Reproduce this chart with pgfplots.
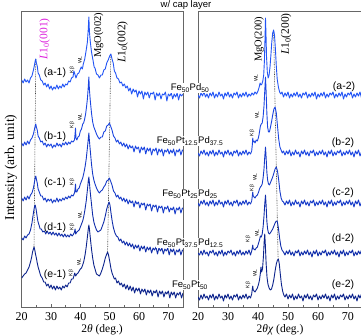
\documentclass[border=0pt]{standalone}
\usepackage{fontspec}
\setmainfont{Liberation Serif}
\newfontfamily\arialf{Liberation Sans}
\usepackage{pgfplots}
\pgfplotsset{compat=1.18}

\definecolor{ca}{RGB}{35,85,245}
\definecolor{cb}{RGB}{28,70,225}
\definecolor{cc}{RGB}{22,58,200}
\definecolor{cd}{RGB}{16,45,170}
\definecolor{ce}{RGB}{12,35,140}
\definecolor{pk}{RGB}{220,30,220}

\pgfplotsset{
  panel/.style={
    scale only axis, anchor=south west,
    height=296.5pt, ymin=27.5, ymax=324,
    xmin=20, xmax=75,
    xtick={20,30,...,70}, minor xtick={25,35,...,75},
    xtick pos=left, ytick=\empty,
    axis line style={draw=black!60, line width=0.9pt},
    every tick/.style={black!60, line width=0.8pt},
    major tick length=4pt, minor tick length=3pt,
    /pgf/number format/assume math mode=true,
    xticklabel style={font=\fontsize{12}{12}\selectfont, yshift=-1.5pt},
    every axis plot/.append style={line width=0.9pt, line join=round},
  },
  dots/.style={black!75, line width=0.6pt, dash pattern=on 0.8pt off 0.9pt},
}

\begin{document}
\begin{tikzpicture}
\path[use as bounding box] (0,0) rectangle (361pt,335pt);

% ---------- 2theta scans ----------
\begin{axis}[panel, at={(21.7pt,27.5pt)}, width=161.3pt]
\addplot[dots] coordinates {(24.8,276) (24.2,88)};
\addplot[dots] coordinates {(50.4,281) (49.3,83)};
% Fe50Pd50
\addplot[ca] coordinates {(20,255) (20.5,252) (21,256) (21.5,253) (22,255) (22.5,252) (23,257) (23.5,259) (24,265) (24.3,269) (24.6,274) (24.8,276) (25,272) (25.3,269) (25.6,262) (26,260) (26.5,255) (27,254) (27.5,250) (28,252) (28.5,248) (29,251) (29.5,246) (30,249) (30.5,245) (31,248) (31.5,246) (32,250) (32.5,246) (33,249) (33.5,247) (34,251) (34.5,248) (35,251) (35.5,250) (36,254) (36.5,253) (37,257) (37.5,258) (37.8,264) (38.1,261) (38.5,257) (39,261) (39.5,262) (40,266) (40.3,268) (40.7,266) (41,271) (41.5,276) (42,285) (42.4,293) (42.7,306) (42.9,318) (43.1,303) (43.4,293) (43.8,283) (44.3,275) (44.7,268) (45,267) (45.5,261) (46,260) (46.5,257) (47,260) (47.5,260) (48,265) (48.5,266) (49,272) (49.5,275) (50,279) (50.4,281) (50.8,276) (51.2,272) (51.6,264) (52,262) (52.5,257) (53,256) (53.5,252) (54,253) (54.5,249) (55,251) (55.5,247) (56,249) (56.5,244) (57,247) (57.5,241) (58,246) (58.5,243) (59,245) (59.5,238) (60,244) (60.5,241) (61,244) (61.5,236) (62,243) (62.5,240) (63,243) (63.5,237) (64,242) (64.5,241) (65,243) (65.5,235) (66,242) (66.5,239) (67,242) (67.5,236) (68,241) (68.5,240) (69,243) (69.5,234) (70,241) (70.5,239) (71,242) (71.5,236) (72,241) (72.5,238) (73,242) (73.5,235) (74,241) (74.5,239) (75,241)};
% Fe50Pt12.5Pd37.5
\addplot[cb] coordinates {(20,192) (20.5,189) (21,193) (21.5,190) (22,194) (22.5,191) (23,195) (23.5,197) (24,201) (24.3,205) (24.6,209) (24.8,211) (25,208) (25.3,205) (25.6,199) (26,197) (26.5,193) (27,194) (27.5,190) (28,192) (28.5,188) (29,191) (29.5,189) (30,191) (30.5,187) (31,190) (31.5,188) (32,192) (32.5,189) (33,191) (33.5,188) (34,192) (34.5,190) (35,193) (35.5,190) (36,193) (36.5,191) (37,194) (37.5,193) (38,195) (38.2,201) (38.35,207) (38.5,197) (38.8,195) (39.2,198) (39.6,199) (40,204) (40.4,206) (40.8,211) (41.1,212) (41.4,215) (41.8,221) (42.1,228) (42.4,236) (42.7,248) (42.9,258) (43.1,245) (43.4,234) (43.8,222) (44.2,213) (44.6,208) (45,205) (45.5,201) (46,198) (46.5,196) (47,198) (47.5,198) (48,203) (48.5,204) (49,209) (49.5,210) (49.9,212) (50.3,209) (50.8,205) (51.3,199) (51.8,197) (52.3,193) (52.8,195) (53.3,191) (53.8,193) (54.3,189) (54.8,192) (55.3,188) (55.8,191) (56.3,186) (56.8,190) (57.3,187) (57.8,189) (58.3,183) (58.8,189) (59.3,186) (59.8,188) (60.3,182) (60.8,188) (61.3,185) (61.8,188) (62.3,181) (62.8,187) (63.3,184) (63.8,187) (64.3,180) (64.8,186) (65.3,184) (65.8,187) (66.3,180) (66.8,186) (67.3,183) (67.8,186) (68.3,179) (68.8,185) (69.3,183) (69.8,186) (70.3,181) (70.8,185) (71.3,182) (71.8,186) (72.3,179) (72.8,185) (73.3,183) (73.8,186) (74.3,180) (74.8,185) (75,184)};
% Fe50Pt25Pd25
\addplot[cc] coordinates {(20,137) (20.5,134) (21,138) (21.5,135) (22,139) (22.5,136) (23,140) (23.5,142) (24,147) (24.3,152) (24.6,157) (24.8,159) (25,156) (25.3,152) (25.6,146) (26,143) (26.5,139) (27,139) (27.5,135) (28,137) (28.5,133) (29,136) (29.5,134) (30,136) (30.5,132) (31,135) (31.5,133) (32,137) (32.5,133) (33,136) (33.5,134) (34,137) (34.5,135) (35,138) (35.5,136) (36,139) (36.5,137) (37,140) (37.5,139) (38,142) (38.2,146) (38.35,151) (38.5,143) (38.8,143) (39.2,146) (39.6,147) (40,151) (40.4,154) (40.8,157) (41.2,162) (41.6,168) (42,176) (42.4,187) (42.7,196) (42.9,202) (43.1,194) (43.4,184) (43.8,171) (44.2,161) (44.6,155) (45,151) (45.5,147) (46,144) (46.5,142) (47,144) (47.5,145) (48,148) (48.5,150) (49,154) (49.5,155) (49.9,157) (50.3,154) (50.8,150) (51.3,144) (51.8,142) (52.3,138) (52.8,140) (53.3,136) (53.8,138) (54.3,134) (54.8,137) (55.3,133) (55.8,136) (56.3,131) (56.8,135) (57.3,132) (57.8,134) (58.3,128) (58.8,134) (59.3,131) (59.8,133) (60.3,127) (60.8,132) (61.3,130) (61.8,132) (62.3,125) (62.8,131) (63.3,129) (63.8,131) (64.3,124) (64.8,130) (65.3,128) (65.8,130) (66.3,123) (66.8,129) (67.3,127) (67.8,129) (68.3,122) (68.8,128) (69.3,126) (69.8,129) (70.3,123) (70.8,127) (71.3,125) (71.8,128) (72.3,121) (72.8,127) (73.3,125) (73.8,128) (74.3,122) (74.8,127) (75,126)};
% Fe50Pt37.5Pd12.5
\addplot[cd] coordinates {(20,97) (20.5,95) (21,99) (21.5,97) (22,100) (22.5,101) (23,105) (23.5,112) (23.8,118) (24.1,124) (24.4,129) (24.6,130) (24.9,126) (25.2,120) (25.5,114) (25.9,110) (26.3,106) (26.7,106) (27.2,103) (27.7,104) (28.2,101) (28.7,104) (29.2,101) (29.7,103) (30.2,100) (30.7,103) (31.2,100) (31.7,102) (32.2,99) (32.7,102) (33.2,99) (33.7,101) (34.2,98) (34.7,101) (35.2,98) (35.7,100) (36.2,98) (36.7,101) (37.2,99) (37.7,101) (38,103) (38.2,106) (38.4,101) (38.8,103) (39.2,104) (39.6,105) (40,108) (40.4,111) (40.8,114) (41.2,119) (41.6,126) (42,134) (42.4,145) (42.7,154) (42.9,158) (43.1,152) (43.4,142) (43.8,131) (44.2,120) (44.6,113) (45,109) (45.5,105) (46,103) (46.5,104) (47,105) (47.5,109) (48,113) (48.5,119) (49,126) (49.4,130) (49.8,133) (50.1,130) (50.5,121) (50.9,113) (51.3,107) (51.8,102) (52.3,99) (52.8,98) (53.3,94) (53.8,96) (54.3,92) (54.8,94) (55.3,90) (55.8,93) (56.3,89) (56.8,92) (57.3,88) (57.8,91) (58.3,86) (58.8,90) (59.3,87) (59.8,90) (60.3,84) (60.8,89) (61.3,86) (61.8,89) (62.3,83) (62.8,88) (63.3,85) (63.8,88) (64.3,82) (64.8,87) (65.3,85) (65.8,88) (66.3,81) (66.8,87) (67.3,84) (67.8,87) (68.3,81) (68.8,86) (69.3,84) (69.8,87) (70.3,80) (70.8,86) (71.3,83) (71.8,86) (72.3,80) (72.8,85) (73.3,83) (73.8,86) (74.3,80) (74.8,85) (75,84)};
% Fe50Pt50
\addplot[ce] coordinates {(20,57) (20.5,59) (21,61) (21.5,62) (22,65) (22.5,68) (23,73) (23.4,78) (23.7,83) (24,86) (24.2,88) (24.4,86) (24.7,81) (25,77) (25.3,72) (25.6,68) (26,64) (26.5,59) (27,57) (27.5,53) (28,53) (28.5,49) (29,51) (29.5,47) (30,50) (30.5,46) (31,49) (31.5,45) (32,49) (32.5,46) (33,48) (33.5,45) (34,49) (34.5,47) (35,50) (35.5,48) (36,52) (36.5,52) (37,56) (37.5,56) (37.8,59) (38.1,62) (38.4,59) (38.8,61) (39.2,62) (39.6,64) (40,66) (40.4,67) (40.8,70) (41.2,74) (41.6,80) (42,88) (42.4,98) (42.7,106) (42.9,110) (43.1,106) (43.4,97) (43.8,86) (44.2,77) (44.6,70) (45,66) (45.5,61) (46,60) (46.5,59) (47,62) (47.5,66) (48,71) (48.5,77) (49,81) (49.3,83) (49.6,80) (50,74) (50.4,67) (50.8,62) (51.2,59) (51.6,56) (52,57) (52.5,52) (53,54) (53.5,50) (54,52) (54.5,48) (55,51) (55.5,46) (56,50) (56.5,45) (57,49) (57.5,44) (58,48) (58.5,42) (59,47) (59.5,44) (60,47) (60.5,41) (61,46) (61.5,43) (62,46) (62.5,40) (63,45) (63.5,42) (64,45) (64.5,39) (65,44) (65.5,42) (66,45) (66.5,38) (67,44) (67.5,41) (68,44) (68.5,38) (69,43) (69.5,41) (70,44) (70.5,37) (71,43) (71.5,40) (72,43) (72.5,37) (73,42) (73.5,40) (74,43) (74.5,37) (75,42)};
\end{axis}

% ---------- 2theta-chi scans ----------
\begin{axis}[panel, at={(198pt,27.5pt)}, width=165pt]
\addplot[dots] coordinates {(45.2,305) (46.7,76)};
% Fe50Pd50
\addplot[ca] coordinates {(20,240) (20.5,237) (21,242) (21.5,239) (22,243) (22.5,238) (23,241) (23.5,237) (24,242) (24.5,239) (25,243) (25.5,237) (26,241) (26.5,238) (27,243) (27.5,239) (28,241) (28.5,236) (29,242) (29.5,239) (30,243) (30.5,238) (31,241) (31.5,237) (32,242) (32.5,240) (33,243) (33.5,237) (34,241) (34.5,238) (35,242) (35.5,239) (36,243) (36.5,238) (37,241) (37.5,239) (38,242) (38.5,240) (39,243) (39.5,241) (40,244) (40.4,248) (40.7,252) (41.0,250) (41.3,251) (41.6,254) (41.9,260) (42.15,275) (42.35,298) (42.5,317) (42.65,302) (42.85,278) (43.1,263) (43.4,257) (43.7,260) (44.0,268) (44.3,280) (44.6,293) (44.9,302) (45.2,305) (45.5,300) (45.8,286) (46.1,269) (46.4,256) (46.8,248) (47.2,243) (47.6,241) (48,243) (48.5,238) (49,242) (49.5,239) (50,243) (50.5,237) (51,241) (51.5,238) (52,242) (52.5,239) (53,243) (53.5,238) (54,241) (54.5,237) (55,242) (55.5,240) (56,243) (56.5,237) (57,241) (57.5,238) (58,242) (58.5,239) (59,243) (59.5,236) (60,241) (60.5,238) (61,242) (61.5,239) (62,243) (62.5,237) (63,241) (63.5,238) (64,242) (64.5,240) (65,243) (65.5,237) (66,241) (66.5,238) (67,242) (67.5,239) (68,243) (68.5,236) (69,241) (69.5,238) (70,242) (70.5,240) (71,243) (71.5,237) (72,241) (72.5,238) (73,242) (73.5,239) (74,243) (74.5,237) (75,241)};
% Fe50Pt12.5Pd37.5
\addplot[cb] coordinates {(20,182) (20.5,179) (21,184) (21.5,181) (22,185) (22.5,180) (23,183) (23.5,179) (24,184) (24.5,181) (25,185) (25.5,179) (26,183) (26.5,180) (27,185) (27.5,181) (28,183) (28.5,178) (29,184) (29.5,181) (30,185) (30.5,180) (31,183) (31.5,179) (32,184) (32.5,182) (33,185) (33.5,179) (34,183) (34.5,180) (35,184) (35.5,181) (36,185) (36.5,180) (37,183) (37.5,181) (37.9,184) (38.1,190) (38.25,197) (38.4,193) (38.7,194) (39.0,192) (39.4,195) (39.8,194) (40.2,198) (40.5,203) (40.8,209) (41.1,211) (41.4,212) (41.7,218) (42.0,229) (42.25,244) (42.5,258) (42.7,244) (42.95,222) (43.2,208) (43.5,203) (43.8,203) (44.1,207) (44.5,213) (44.9,220) (45.3,226) (45.7,228) (46.1,222) (46.5,209) (46.9,196) (47.3,188) (47.7,185) (48.1,182) (48.5,184) (49,180) (49.5,184) (50,181) (50.5,185) (51,179) (51.5,183) (52,180) (52.5,185) (53,181) (53.5,183) (54,178) (54.5,184) (55,181) (55.5,185) (56,180) (56.5,183) (57,179) (57.5,184) (58,182) (58.5,185) (59,179) (59.5,183) (60,180) (60.5,184) (61,181) (61.5,185) (62,180) (62.5,183) (63,178) (63.5,184) (64,181) (64.5,185) (65,179) (65.5,183) (66,180) (66.5,184) (67,182) (67.5,185) (68,179) (68.5,183) (69,180) (69.5,184) (70,181) (70.5,185) (71,180) (71.5,183) (72,178) (72.5,184) (73,181) (73.5,185) (74,179) (74.5,183) (75,181)};
% Fe50Pt25Pd25
\addplot[cc] coordinates {(20,132) (20.5,129) (21,134) (21.5,131) (22,135) (22.5,130) (23,133) (23.5,129) (24,134) (24.5,131) (25,135) (25.5,129) (26,133) (26.5,130) (27,135) (27.5,131) (28,133) (28.5,128) (29,134) (29.5,131) (30,135) (30.5,130) (31,133) (31.5,129) (32,134) (32.5,132) (33,135) (33.5,129) (34,133) (34.5,130) (35,134) (35.5,131) (36,135) (36.5,130) (37,133) (37.5,131) (37.9,134) (38.1,139) (38.25,143) (38.4,139) (38.7,138) (39.0,137) (39.4,139) (39.8,140) (40.2,143) (40.5,146) (40.8,148) (41.1,149) (41.4,151) (41.7,157) (42.0,166) (42.25,178) (42.5,188) (42.7,178) (42.95,163) (43.2,155) (43.5,151) (43.8,150) (44.1,152) (44.5,155) (44.9,158) (45.3,162) (45.7,166) (46.1,168) (46.5,164) (46.9,155) (47.3,144) (47.7,137) (48.1,134) (48.5,133) (49,130) (49.5,134) (50,131) (50.5,135) (51,129) (51.5,133) (52,130) (52.5,135) (53,131) (53.5,133) (54,128) (54.5,134) (55,131) (55.5,135) (56,130) (56.5,133) (57,129) (57.5,134) (58,132) (58.5,135) (59,129) (59.5,133) (60,130) (60.5,134) (61,131) (61.5,135) (62,130) (62.5,133) (63,128) (63.5,134) (64,131) (64.5,135) (65,129) (65.5,133) (66,130) (66.5,134) (67,132) (67.5,135) (68,129) (68.5,133) (69,130) (69.5,134) (70,131) (70.5,135) (71,130) (71.5,133) (72,128) (72.5,134) (73,131) (73.5,135) (74,129) (74.5,133) (75,131)};
% Fe50Pt37.5Pd12.5
\addplot[cd] coordinates {(20,82) (20.5,80) (21,84) (21.5,80) (22,85) (22.5,81) (23,83) (23.5,79) (24,84) (24.5,82) (25,85) (25.5,80) (26,83) (26.5,79) (27,84) (27.5,81) (28,85) (28.5,79) (29,83) (29.5,80) (30,84) (30.5,82) (31,85) (31.5,80) (32,83) (32.5,79) (33,84) (33.5,81) (34,85) (34.5,80) (35,83) (35.5,80) (36,84) (36.5,81) (37,85) (37.5,80) (37.9,84) (38.1,87) (38.25,90) (38.4,86) (38.7,86) (39.0,85) (39.4,87) (39.8,88) (40.2,92) (40.5,95) (40.8,99) (41.1,98) (41.4,101) (41.7,108) (42.0,119) (42.25,131) (42.5,140) (42.7,130) (42.95,114) (43.2,106) (43.5,102) (43.8,101) (44.1,102) (44.5,104) (44.9,106) (45.3,109) (45.7,112) (46.1,114) (46.4,114) (46.8,107) (47.2,97) (47.6,89) (48,85) (48.5,83) (49,80) (49.5,84) (50,81) (50.5,85) (51,80) (51.5,83) (52,79) (52.5,84) (53,82) (53.5,85) (54,79) (54.5,83) (55,80) (55.5,84) (56,81) (56.5,85) (57,80) (57.5,83) (58,78) (58.5,84) (59,81) (59.5,85) (60,79) (60.5,83) (61,80) (61.5,84) (62,82) (62.5,85) (63,79) (63.5,83) (64,80) (64.5,84) (65,81) (65.5,85) (66,80) (66.5,83) (67,78) (67.5,84) (68,81) (68.5,85) (69,79) (69.5,83) (70,80) (70.5,84) (71,82) (71.5,85) (72,79) (72.5,83) (73,80) (73.5,84) (74,81) (74.5,85) (75,81)};
% Fe50Pt50
\addplot[ce] coordinates {(20,38) (20.5,35) (21,40) (21.5,36) (22,41) (22.5,37) (23,39) (23.5,35) (24,40) (24.5,37) (25,41) (25.5,35) (26,39) (26.5,36) (27,41) (27.5,37) (28,39) (28.5,34) (29,40) (29.5,37) (30,41) (30.5,36) (31,39) (31.5,35) (32,40) (32.5,38) (33,41) (33.5,35) (34,39) (34.5,36) (35,40) (35.5,37) (36,41) (36.5,36) (37,39) (37.5,37) (37.9,41) (38.1,46) (38.25,49) (38.4,45) (38.7,44) (39.0,43) (39.4,45) (39.8,47) (40.2,51) (40.5,55) (40.8,62) (41.0,68) (41.2,63) (41.5,66) (41.8,78) (42.05,93) (42.25,101) (42.45,90) (42.7,72) (43.0,58) (43.3,51) (43.7,47) (44.1,45) (44.5,46) (44.9,50) (45.3,56) (45.7,64) (46.1,71) (46.5,75) (46.8,76) (47.1,71) (47.4,62) (47.8,51) (48.2,44) (48.6,40) (49,38) (49.5,41) (50,36) (50.5,40) (51,37) (51.5,41) (52,35) (52.5,39) (53,36) (53.5,41) (54,37) (54.5,39) (55,34) (55.5,40) (56,37) (56.5,41) (57,36) (57.5,39) (58,35) (58.5,40) (59,38) (59.5,41) (60,35) (60.5,39) (61,36) (61.5,40) (62,37) (62.5,41) (63,36) (63.5,39) (64,34) (64.5,40) (65,37) (65.5,41) (66,35) (66.5,39) (67,36) (67.5,40) (68,38) (68.5,41) (69,35) (69.5,39) (70,36) (70.5,40) (71,37) (71.5,41) (72,36) (72.5,39) (73,34) (73.5,40) (74,37) (74.5,41) (75,36)};
\end{axis}

% ---------- titles and axis labels ----------
\node[anchor=base, font=\arialf\fontsize{9.5}{9.5}\selectfont] at (186pt,327pt) {w/ cap layer};
\node[rotate=90, font=\fontsize{13.5}{13.5}\selectfont] at (11pt,167.5pt) {Intensity (arb. unit)};
\node[anchor=base, font=\fontsize{11.5}{11.5}\selectfont] at (102pt,3pt) {2\textit{θ} (deg.)};
\node[anchor=base, font=\fontsize{11.5}{11.5}\selectfont] at (280pt,3pt) {2\textit{θχ} (deg.)};

% ---------- peak assignments ----------
\begin{scope}[every node/.style={rotate=90, anchor=west, inner sep=0pt, font=\fontsize{11.5}{11.5}\selectfont}]
\node[pk] at (44.5pt,275pt) {\textit{L}1\textsubscript{0}(001)};
\node[font=\fontsize{10.5}{10.5}\selectfont] at (98.5pt,277pt) {MgO(002)};
\node at (122.5pt,272pt) {\textit{L}1\textsubscript{0}(002)};
\node[font=\fontsize{10.5}{10.5}\selectfont] at (259pt,273pt) {MgO(200)};
\node at (286pt,280pt) {\textit{L}1\textsubscript{0}(200)};
\end{scope}

\begin{scope}[every node/.style={rotate=90, inner sep=0pt, font=\arialf\fontsize{5}{5}\selectfont}]
\node at (72pt,265pt) {Kβ}; \node at (80pt,275pt) {WL};
\node at (72pt,210pt) {Kβ}; \node at (80pt,218pt) {WL};
\node at (72pt,153pt) {Kβ};
\node at (72pt,108pt) {Kβ}; \node at (80pt,120pt) {WL};
\node at (71pt,62pt) {Kβ};  \node at (79pt,73pt) {WL};
\node at (256pt,257pt) {WL};
\node at (252pt,202pt) {Kβ}; \node at (257pt,220pt) {WL};
\node at (252pt,147pt) {Kβ}; \node at (255pt,158pt) {WL};
\node at (248pt,96pt) {Kβ};  \node at (257pt,102pt) {WL};
\node at (248pt,50pt) {Kβ};  \node at (255pt,62pt) {WL};
\end{scope}

% ---------- sample labels ----------
\begin{scope}[every node/.style={font=\arialf\fontsize{10.5}{10.5}\selectfont, inner sep=0pt}]
\node at (55pt,262pt) {(a-1)};
\node at (55pt,198pt) {(b-1)};
\node at (55pt,152pt) {(c-1)};
\node at (55pt,107pt) {(d-1)};
\node at (55pt,60pt) {(e-1)};
\node at (344pt,248pt) {(a-2)};
\node at (343pt,192pt) {(b-2)};
\node at (343pt,142pt) {(c-2)};
\node at (343pt,96pt) {(d-2)};
\node at (343pt,50pt) {(e-2)};
\end{scope}

\begin{scope}[every node/.style={font=\arialf\fontsize{9.5}{9.5}\selectfont, fill=white, inner sep=0.8pt}]
\node at (190pt,247pt) {Fe\textsubscript{50}Pd\textsubscript{50}};
\node at (190pt,194pt) {Fe\textsubscript{50}Pt\textsubscript{12.5}Pd\textsubscript{37.5}};
\node at (190pt,141pt) {Fe\textsubscript{50}Pt\textsubscript{25}Pd\textsubscript{25}};
\node at (190pt,92pt) {Fe\textsubscript{50}Pt\textsubscript{37.5}Pd\textsubscript{12.5}};
\node at (190pt,50pt) {Fe\textsubscript{50}Pt\textsubscript{50}};
\end{scope}
\end{tikzpicture}
\end{document}
